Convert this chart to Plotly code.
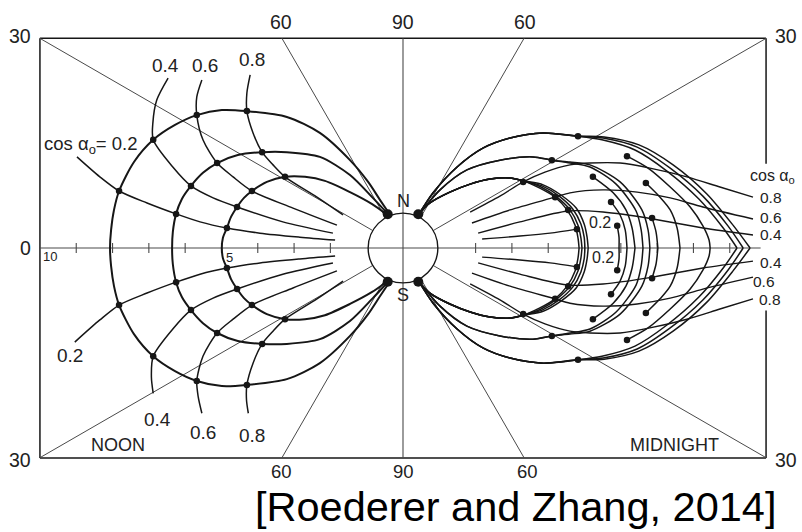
import math
import plotly.graph_objects as go

# ---------------------------------------------------------------------------
# DATA  (all coordinates in Earth radii; noon to the left, midnight to the right)
# ---------------------------------------------------------------------------
# Noon-side field lines, northern half, from the equator to the northern foot point
noon_outer_x = [-8.07, -8.04, -7.96, -7.82, -7.41, -6.88, -6.28, -5.68, -4.99, -4.30, -3.20, -2.29, -1.46, -0.96, -0.63, -0.38]
noon_outer_y = [0.00, 0.50, 1.05, 1.57, 2.37, 2.98, 3.39, 3.66, 3.80, 3.77, 3.61, 3.17, 2.42, 1.82, 1.32, 0.95]
noon_mid_x = [-6.36, -6.34, -6.25, -6.09, -5.84, -5.51, -5.12, -4.55, -3.88, -3.20, -2.29, -1.46, -0.83, -0.41]
noon_mid_y = [0.00, 0.44, 0.94, 1.35, 1.71, 2.07, 2.34, 2.56, 2.64, 2.64, 2.51, 2.01, 1.38, 0.93]
noon_inner_x = [-4.99, -4.96, -4.85, -4.74, -4.57, -4.38, -4.16, -3.75, -3.25, -2.70, -2.15, -1.46, -0.85, -0.44]
noon_inner_y = [0.00, 0.28, 0.55, 0.85, 1.13, 1.38, 1.57, 1.82, 1.96, 1.96, 1.85, 1.54, 1.21, 0.92]

# Noon-side mirror-point curves (cos a0 = 0.2 ... 0.8): core (outer dot -> near Earth), north and south tails
n02_core_x = [-7.82, -7.05, -6.25, -5.59, -4.85, -3.94, -2.84, -1.87]
n02_core_y = [1.57, 1.24, 0.94, 0.72, 0.55, 0.41, 0.30, 0.22]
n02_top_x, n02_top_y = [-8.98, -8.35, -7.82], [2.51, 1.96, 1.57]
n02_bot_x, n02_bot_y = [-9.04, -8.35, -7.82], [-2.59, -1.98, -1.57]

n04_core_x = [-6.88, -6.34, -5.84, -5.23, -4.57, -3.31, -1.93]
n04_core_y = [2.98, 2.23, 1.71, 1.38, 1.13, 0.72, 0.41]
n04_top_x, n04_top_y = [-6.47, -6.78, -6.89, -6.88], [4.68, 4.08, 3.44, 2.98]
n04_bot_x, n04_bot_y = [-6.88, -6.93, -6.88], [-4.00, -3.55, -2.98]

n06_core_x = [-5.68, -5.51, -5.12, -4.68, -4.16, -3.03, -1.82]
n06_core_y = [3.66, 2.98, 2.34, 1.96, 1.57, 1.10, 0.63]
n06_top_x, n06_top_y = [-5.54, -5.68, -5.68], [4.63, 4.16, 3.66]
n06_bot_x, n06_bot_y = [-5.54, -5.64, -5.68], [-4.55, -4.10, -3.66]

n08_core_x = [-4.30, -4.13, -3.88, -3.58, -3.25, -2.37, -1.65]
n08_core_y = [3.77, 3.17, 2.64, 2.29, 1.96, 1.40, 0.91]
n08_top_x, n08_top_y = [-4.21, -4.30, -4.30], [4.77, 4.27, 3.77]
n08_bot_x, n08_bot_y = [-4.26, -4.31, -4.30], [-4.55, -4.19, -3.77]

noon_dot_x = [-7.82, -6.88, -5.68, -4.30, -6.25, -5.84, -5.12, -3.88, -4.85, -4.57, -4.16, -3.25]
noon_dot_y = [1.57, 2.98, 3.66, 3.77, 0.94, 1.71, 2.34, 2.64, 0.55, 1.13, 1.57, 1.96]

# Midnight-side drift-shell field lines (northern half)
g1_base_x = [0.41, 0.74, 1.29, 1.85, 2.40, 2.95, 3.31]
g1_base_y = [0.91, 1.24, 1.54, 1.76, 1.90, 1.93, 1.85]
g1a_x, g1a_y = [3.77, 4.19, 4.52, 4.74, 4.82, 4.85], [1.65, 1.40, 1.05, 0.63, 0.28, 0.00]
g1b_x, g1b_y = [3.80, 4.24, 4.60, 4.82, 4.90, 4.93], [1.68, 1.40, 1.05, 0.63, 0.28, 0.00]
g1c_x, g1c_y = [3.83, 4.30, 4.68, 4.90, 4.99, 5.01], [1.71, 1.43, 1.07, 0.66, 0.30, 0.00]
g1d_x, g1d_y = [3.86, 4.35, 4.77, 4.99, 5.07, 5.10], [1.74, 1.46, 1.10, 0.66, 0.30, 0.00]

g2_base_x = [0.41, 1.02, 1.76, 2.67, 3.58, 4.10]
g2_base_y = [0.88, 1.60, 2.15, 2.42, 2.51, 2.42]
g2a_x, g2a_y = [4.60, 5.15, 5.98, 6.58, 6.75, 6.80], [2.37, 2.29, 1.82, 1.05, 0.50, 0.00]
g2b_x, g2b_y = [4.60, 5.15, 5.87, 6.42, 6.56, 6.61], [2.34, 2.23, 1.76, 1.02, 0.50, 0.00]
g2_06_x, g2_06_y = [5.23, 5.79, 6.14, 6.31, 6.39], [1.96, 1.52, 1.05, 0.55, 0.00]
g2_04_x, g2_04_y = [5.73, 5.98, 6.12, 6.17], [1.27, 0.91, 0.50, 0.00]
g2_02_x, g2_02_y = [5.90, 5.95, 5.95], [0.61, 0.30, 0.00]

g3_base_x = [0.41, 0.83, 1.49, 2.20, 2.95, 3.86, 4.82]
g3_base_y = [0.88, 1.52, 2.23, 2.75, 3.03, 3.17, 3.08]
g3a_x, g3a_y = [5.54, 6.50, 7.44, 8.37, 9.09, 9.56], [3.06, 2.84, 2.29, 1.49, 0.63, 0.00]
g3b_x, g3b_y = [5.51, 6.45, 7.36, 8.26, 8.95, 9.37], [3.03, 2.78, 2.20, 1.43, 0.61, 0.00]
g3c_x, g3c_y = [5.48, 6.39, 7.27, 8.15, 8.82, 9.20], [2.98, 2.70, 2.12, 1.35, 0.55, 0.00]
g3_06_x, g3_06_y = [6.17, 6.75, 7.36, 7.91, 8.26, 8.43, 8.46], [2.53, 2.20, 1.68, 1.13, 0.61, 0.22, 0.00]
g3_04_x, g3_04_y = [6.69, 7.08, 7.36, 7.55, 7.63], [1.79, 1.40, 1.05, 0.55, 0.00]
g3_02_x, g3_02_y = [6.86, 6.97, 7.02], [0.83, 0.44, 0.00]

mid_dot_x = [3.31, 4.19, 4.55, 4.79, 4.10, 5.23, 5.73, 5.90, 4.82, 6.17, 6.69, 6.86]
mid_dot_y = [1.82, 1.40, 1.05, 0.52, 2.42, 1.96, 1.27, 0.61, 3.08, 2.53, 1.79, 0.83]

# Midnight-side mirror-point curves (northern half), Earth end -> label end
m08_x = [1.85, 2.67, 3.31, 3.91, 4.60, 5.15, 5.98, 6.80, 7.82, 8.73, 9.64]
m08_y = [0.99, 1.43, 1.82, 2.09, 2.29, 2.34, 2.34, 2.20, 1.96, 1.68, 1.40]
m06_x = [1.90, 2.95, 4.19, 4.60, 5.51, 6.45, 7.36, 8.26, 9.64]
m06_y = [0.69, 1.05, 1.40, 1.52, 1.60, 1.54, 1.38, 1.13, 0.80]
m04_x = [2.07, 3.22, 4.55, 5.51, 6.89, 8.26, 9.64]
m04_y = [0.41, 0.72, 1.02, 0.99, 0.80, 0.55, 0.36]
m02_x = [2.18, 3.22, 4.05, 4.79]
m02_y = [0.25, 0.33, 0.41, 0.52]

foot_x = [-0.42, 0.42, -0.42, 0.42]
foot_y = [0.93, 0.93, -0.93, -0.93]

tick_values = [-9, -8, -7, -6, -5, -4, -3, -2, 2, 3, 4, 5, 6, 7, 8, 9]
latitudes = [30, 60]
box_half_x = 10.0
box_half_y = 5.78
earth_radius = 0.96

# ---------------------------------------------------------------------------
INK = "#161616"
GREY = "#4a4a4a"
FONT = "Liberation Sans, Arial, Helvetica, sans-serif"

fig = go.Figure()


def add_line(xs, ys, width=1.6, color=INK, shape="spline"):
    fig.add_trace(go.Scatter(
        x=xs, y=ys, mode="lines",
        line=dict(color=color, width=width, shape=shape, smoothing=0.8),
        hoverinfo="skip", showlegend=False))


def neg(v):
    return [-a for a in v]


# --- frame, axis, radial latitude lines -----------------------------------
add_line([-box_half_x, box_half_x], [box_half_y, box_half_y], 1.5, INK, "linear")
add_line([-box_half_x, box_half_x], [-box_half_y, -box_half_y], 1.5, INK, "linear")
add_line([-box_half_x, -box_half_x], [-box_half_y, box_half_y], 1.5, INK, "linear")
add_line([box_half_x, box_half_x], [box_half_y, 2.32], 1.5, INK, "linear")
add_line([box_half_x, box_half_x], [-1.72, -box_half_y], 1.5, INK, "linear")
add_line([0, 0], [-box_half_y, box_half_y], 1.1, GREY, "linear")
add_line([-box_half_x, 9.85], [0, 0], 1.1, GREY, "linear")

for lat in latitudes:
    c, s = math.cos(math.radians(lat)), math.sin(math.radians(lat))
    t_end = min(box_half_x / c, box_half_y / s)
    for sx in (-1, 1):
        for sy in (-1, 1):
            add_line([sx * earth_radius * c, sx * t_end * c],
                     [sy * earth_radius * s, sy * t_end * s], 1.0, GREY, "linear")

tx, ty = [], []
for v in tick_values:
    tx += [v, v, None]
    ty += [-0.14, 0.14, None]
add_line(tx, ty, 1.1, GREY, "linear")

# --- noon field lines -------------------------------------------------------
for xs, ys in [(noon_outer_x, noon_outer_y), (noon_mid_x, noon_mid_y), (noon_inner_x, noon_inner_y)]:
    X = list(reversed(xs)) + xs[1:]
    Y = list(reversed(ys)) + neg(ys[1:])
    add_line(X, Y, 2.0)

# --- noon mirror-point curves ----------------------------------------------
for cx, cy, tpx, tpy, bx, by in [
        (n02_core_x, n02_core_y, n02_top_x, n02_top_y, n02_bot_x, n02_bot_y),
        (n04_core_x, n04_core_y, n04_top_x, n04_top_y, n04_bot_x, n04_bot_y),
        (n06_core_x, n06_core_y, n06_top_x, n06_top_y, n06_bot_x, n06_bot_y),
        (n08_core_x, n08_core_y, n08_top_x, n08_top_y, n08_bot_x, n08_bot_y)]:
    add_line(tpx + cx[1:], tpy + cy[1:], 1.5)
    add_line(bx + cx[1:], by + neg(cy[1:]), 1.5)

# --- midnight field lines ---------------------------------------------------
mid_lines = [
    (g1_base_x + g1a_x, g1_base_y + g1a_y),
    (g1_base_x + g1b_x, g1_base_y + g1b_y),
    (g1_base_x + g1c_x, g1_base_y + g1c_y),
    (g1_base_x + g1d_x, g1_base_y + g1d_y),
    (g2_base_x + g2a_x, g2_base_y + g2a_y),
    (g2_base_x + g2b_x, g2_base_y + g2b_y),
    (g2_06_x, g2_06_y), (g2_04_x, g2_04_y), (g2_02_x, g2_02_y),
    (g3_base_x + g3a_x, g3_base_y + g3a_y),
    (g3_base_x + g3b_x, g3_base_y + g3b_y),
    (g3_base_x + g3c_x, g3_base_y + g3c_y),
    (g3_06_x, g3_06_y), (g3_04_x, g3_04_y), (g3_02_x, g3_02_y),
]
for xs, ys in mid_lines:
    add_line(xs, ys, 1.5)
    add_line(xs, neg(ys), 1.5)

# --- midnight mirror-point curves -------------------------------------------
for xs, ys in [(m08_x, m08_y), (m06_x, m06_y), (m04_x, m04_y), (m02_x, m02_y)]:
    add_line(xs, ys, 1.4)
    add_line(xs, neg(ys), 1.4)

# --- dots -------------------------------------------------------------------
dx = noon_dot_x + noon_dot_x + mid_dot_x + mid_dot_x
dy = noon_dot_y + neg(noon_dot_y) + mid_dot_y + neg(mid_dot_y)
fig.add_trace(go.Scatter(x=dx, y=dy, mode="markers",
                         marker=dict(color=INK, size=6.5, line=dict(width=0)),
                         hoverinfo="skip", showlegend=False))
fig.add_trace(go.Scatter(x=foot_x, y=foot_y, mode="markers",
                         marker=dict(color=INK, size=10, line=dict(width=0)),
                         hoverinfo="skip", showlegend=False))

# --- Earth -----------------------------------------------------------------
fig.add_shape(type="circle", xref="x", yref="y",
              x0=-earth_radius, y0=-earth_radius, x1=earth_radius, y1=earth_radius,
              line=dict(color=INK, width=1.4), fillcolor="rgba(0,0,0,0)")

# --- text ------------------------------------------------------------------
ann = []


def txt(x, y, s, size=17, xanchor="center", yanchor="middle", color="#222"):
    ann.append(dict(x=x, y=y, xref="x", yref="y", text=s, showarrow=False,
                    xanchor=xanchor, yanchor=yanchor,
                    font=dict(family=FONT, size=size, color=color)))


# latitude labels
txt(-10.2, 5.85, "30", 19.5, "right")
txt(-3.36, 6.22, "60", 19.5)
txt(0.0, 6.22, "90", 19.5)
txt(3.36, 6.22, "60", 19.5)
txt(10.2, 5.85, "30", 19.5, "left")
txt(-10.2, -5.85, "30", 19.5, "right")
txt(-3.36, -6.15, "60", 18.5)
txt(0.0, -6.15, "90", 18.5)
txt(3.42, -6.15, "60", 18.5)
txt(10.2, -5.85, "30", 19.5, "left")
# axis labels
txt(-10.2, 0.0, "0", 19.5, "right")
txt(-9.72, -0.24, "10", 13)
txt(-4.77, -0.26, "5", 13)
txt(0.0, 1.30, "N", 18)
txt(0.0, -1.30, "S", 18)
# noon labels
txt(-8.59, 2.84, "cos α<sub>o</sub>= 0.2", 18.5)
txt(-6.53, 5.04, "0.4", 19)
txt(-5.45, 5.04, "0.6", 19)
txt(-4.16, 5.18, "0.8", 19)
txt(-9.17, -2.95, "0.2", 19)
txt(-6.75, -4.71, "0.4", 19)
txt(-5.51, -5.07, "0.6", 19)
txt(-4.16, -5.15, "0.8", 19)
txt(-7.85, -5.43, "NOON", 18)
txt(7.49, -5.43, "MIDNIGHT", 18)
# midnight labels
txt(10.19, 1.98, "cos α<sub>o</sub>", 16)
txt(10.14, 1.40, "0.8", 15.5)
txt(10.14, 0.83, "0.6", 15.5)
txt(10.14, 0.36, "0.4", 15.5)
txt(10.14, -0.39, "0.4", 15.5)
txt(9.95, -0.91, "0.6", 15.5)
txt(10.10, -1.42, "0.8", 15.5)
txt(5.43, 0.69, "0.2", 16)
txt(5.51, -0.25, "0.2", 16)
# citation
txt(3.11, -7.81, "[Roederer and Zhang, 2014]", 41.5, yanchor="bottom", color="#000")

fig.update_layout(
    width=802, height=532,
    margin=dict(l=0, r=0, t=0, b=0),
    paper_bgcolor="white", plot_bgcolor="white",
    xaxis=dict(range=[-11.10, 10.99], visible=False, fixedrange=True),
    yaxis=dict(range=[-7.82, 6.83], visible=False, fixedrange=True),
    annotations=ann,
    showlegend=False,
)

fig.write_html("out.html")
